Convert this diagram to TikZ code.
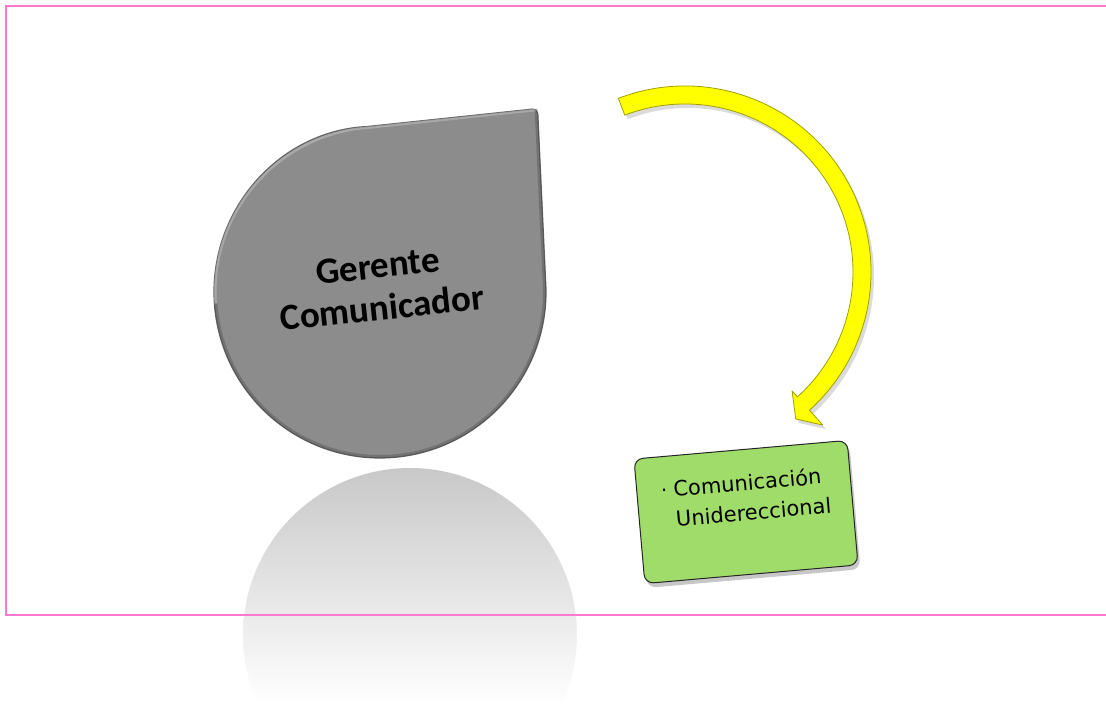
\documentclass[tikz,border=0pt]{standalone}
\usepackage{fontspec}
\newfontfamily\carlito{Carlito}
\newfontfamily\dejavu{DejaVu Sans}
\definecolor{pinkline}{RGB}{255,120,205}
\definecolor{dropgray}{RGB}{140,140,140}
\definecolor{dropedge}{RGB}{100,100,100}
\definecolor{arrowyellow}{RGB}{255,255,0}
\definecolor{arrowedge}{RGB}{160,160,0}
\definecolor{boxgreen}{RGB}{160,220,105}
\definecolor{reflgray}{RGB}{200,200,200}
\tikzset{
  border/.style={pinkline, line width=2.5pt},
  drop/.style={fill=dropgray, draw=dropedge, line width=1.2pt},
  yarrow/.style={fill=arrowyellow, draw=arrowedge, line width=0.8pt, line join=round},
  shadowfill/.style={fill=black!14},
  greenbox/.style={draw=black!85, line width=1pt, fill=boxgreen, rounded corners=9pt,
    minimum width=214pt, minimum height=125pt, inner sep=0pt, transform shape},
}
\begin{document}
\begin{tikzpicture}[x=1pt,y=1pt]
\useasboundingbox (0,0) rectangle (1106,704);
% reflection of the drop
\begin{scope}
  \clip (410,69) circle (167);
  \shade[top color=reflgray, bottom color=white] (240,0) rectangle (580,236);
\end{scope}
% pink frame
\draw[border] (1110,698) -- (6,698) -- (6,89) -- (1110,89);
% teardrop
\begin{scope}[shift={(380,412)}, rotate=4]
  \path[drop] (0,166) arc[start angle=90, end angle=360, radius=166]
     [rounded corners=5pt] -- (170,172) -- cycle;
  \begin{scope}
    \clip (0,166) arc[start angle=90, end angle=360, radius=166] -- (170,172) -- cycle;
    \draw[white, opacity=0.25, line width=5pt] (-166,0) arc[start angle=180, end angle=90, radius=166] -- (170,172);
    \draw[black, opacity=0.18, line width=6pt] (-166,0) arc[start angle=180, end angle=360, radius=166] -- (170,172);
  \end{scope}
\end{scope}
\node[font=\carlito\bfseries\fontsize{37}{42}\selectfont, align=center, rotate=6] (gerente) at (380,417) {Gerente\\Comunicador};
% curved arrow
\begin{scope}[shift={(688,428)}]
  \fill[shadowfill] (111:186) arc[start angle=111, end angle=-48, radius=186]
    -- (-48:206) -- (-53:184) -- (-48:160) -- (-48:168)
    arc[start angle=-48, end angle=111, radius=168] -- cycle;
\end{scope}
\begin{scope}[shift={(685,432)}]
  \path[yarrow] (111:186) arc[start angle=111, end angle=-48, radius=186]
    -- (-48:206) -- (-53:184) -- (-48:160) -- (-48:168)
    arc[start angle=-48, end angle=111, radius=168] -- cycle;
\end{scope}
% green box
\begin{scope}[shift={(746,192)}, rotate=5]
  \fill[black!22, rounded corners=9pt] (-105,-67) rectangle (109,58);
  \node[greenbox] (box) at (0,0) {};
  \node[anchor=base west, inner sep=0pt, transform shape,
        font=\dejavu\fontsize{21}{30}\selectfont] (boxtext) at (-83,21.5)
    {\vtop{\hbox{\makebox[12.5pt][l]{\fontsize{20}{20}\selectfont ·}Comunicación}\hbox{\hspace*{12.5pt}Unidereccional}}};
\end{scope}
\end{tikzpicture}
\end{document}
